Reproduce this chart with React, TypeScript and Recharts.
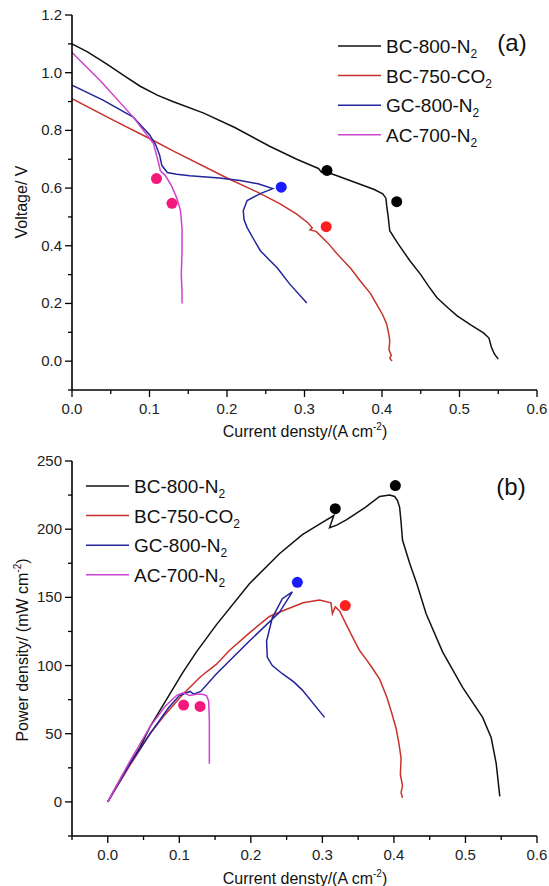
import React from "react";
import { ComposedChart, Line, Scatter, XAxis, YAxis } from "recharts";

// ---- (a) polarization curves: current density (A cm-2) vs voltage (V) ----
const bc800A_I = [0, 0.02, 0.045, 0.07, 0.088, 0.11, 0.13, 0.17, 0.21, 0.255, 0.29, 0.312, 0.318, 0.322, 0.326, 0.332, 0.342, 0.37, 0.39, 0.401, 0.405, 0.406, 0.408, 0.41, 0.42, 0.436, 0.45, 0.46, 0.471, 0.485, 0.497, 0.515, 0.531, 0.538, 0.541, 0.545, 0.55];
const bc800A_V = [1.1, 1.072, 1.03, 0.985, 0.953, 0.922, 0.9, 0.86, 0.81, 0.745, 0.7, 0.675, 0.668, 0.655, 0.662, 0.652, 0.643, 0.615, 0.595, 0.58, 0.565, 0.54, 0.5, 0.452, 0.41, 0.348, 0.3, 0.26, 0.22, 0.185, 0.157, 0.125, 0.098, 0.08, 0.05, 0.025, 0.007];

const bc750A_I = [0, 0.05, 0.105, 0.131, 0.2, 0.24, 0.268, 0.29, 0.305, 0.31, 0.307, 0.315, 0.33, 0.342, 0.36, 0.372, 0.385, 0.393, 0.401, 0.406, 0.409, 0.41, 0.409, 0.412, 0.41, 0.413];
const bc750A_V = [0.91, 0.84, 0.765, 0.728, 0.635, 0.585, 0.546, 0.51, 0.478, 0.462, 0.455, 0.45, 0.41, 0.372, 0.32, 0.278, 0.235, 0.198, 0.16, 0.129, 0.09, 0.07, 0.04, 0.02, 0.01, 0.0];

const gc800A_I = [0, 0.04, 0.079, 0.1, 0.108, 0.113, 0.116, 0.123, 0.135, 0.152, 0.19, 0.217, 0.24, 0.259, 0.243, 0.226, 0.221, 0.222, 0.226, 0.235, 0.243, 0.255, 0.265, 0.281, 0.303];
const gc800A_V = [0.957, 0.905, 0.846, 0.785, 0.75, 0.715, 0.678, 0.654, 0.648, 0.643, 0.635, 0.626, 0.615, 0.598, 0.581, 0.557, 0.522, 0.49, 0.463, 0.42, 0.383, 0.35, 0.323, 0.267, 0.202];

const ac700A_I = [0, 0.036, 0.079, 0.105, 0.111, 0.114, 0.12, 0.128, 0.135, 0.14, 0.142, 0.142, 0.141, 0.142, 0.142];
const ac700A_V = [1.07, 0.974, 0.846, 0.755, 0.695, 0.66, 0.645, 0.61, 0.567, 0.522, 0.46, 0.38, 0.3, 0.24, 0.2];

// marked points in (a)
const bc800MarkA_I = [0.329, 0.419];
const bc800MarkA_V = [0.661, 0.553];
const bc750MarkA_I = [0.328];
const bc750MarkA_V = [0.466];
const gc800MarkA_I = [0.27];
const gc800MarkA_V = [0.603];
const ac700MarkA_I = [0.109, 0.129];
const ac700MarkA_V = [0.633, 0.547];

// ---- (b) power density curves: current density vs power (mW cm-2) ----
const bc800B_I = [0, 0.02, 0.045, 0.059, 0.082, 0.105, 0.124, 0.152, 0.198, 0.24, 0.272, 0.3, 0.316, 0.31, 0.32, 0.334, 0.36, 0.38, 0.394, 0.401, 0.405, 0.408, 0.41, 0.412, 0.422, 0.432, 0.445, 0.468, 0.496, 0.524, 0.536, 0.543, 0.548];
const bc800B_P = [0, 19, 40, 55, 75, 95, 110, 130, 160, 182, 196, 205, 210, 201, 203, 207, 216, 224, 225, 224, 221, 216, 205, 192, 175, 160, 138, 110, 84, 62, 47, 28, 4];

const bc750B_I = [0, 0.03, 0.059, 0.08, 0.105, 0.13, 0.152, 0.17, 0.198, 0.226, 0.244, 0.273, 0.296, 0.312, 0.314, 0.318, 0.324, 0.342, 0.352, 0.362, 0.37, 0.38, 0.39, 0.397, 0.403, 0.407, 0.41, 0.409, 0.412, 0.41, 0.412];
const bc750B_P = [0, 26, 50, 64, 79, 92, 101, 111, 124, 136, 140, 146, 148, 146, 138, 143, 140, 121, 111, 104, 98, 90, 77, 65, 54, 43, 32, 20, 12, 7, 3];

const gc800B_I = [0, 0.03, 0.059, 0.085, 0.1, 0.11, 0.115, 0.12, 0.13, 0.152, 0.198, 0.24, 0.258, 0.244, 0.23, 0.222, 0.223, 0.23, 0.244, 0.26, 0.272, 0.303];
const gc800B_P = [0, 27, 50, 69, 78, 80, 81, 79, 81, 94, 118, 139, 154, 149, 135, 118, 106, 100, 94, 88, 82, 62];

const ac700B_I = [0, 0.03, 0.059, 0.08, 0.096, 0.105, 0.115, 0.124, 0.132, 0.138, 0.141, 0.142, 0.142, 0.142];
const ac700B_P = [0, 29, 55, 70, 78, 80, 78, 79, 79, 78, 74, 60, 45, 28];

// marked points in (b)
const bc800MarkB_I = [0.318, 0.402];
const bc800MarkB_P = [215, 232];
const bc750MarkB_I = [0.332];
const bc750MarkB_P = [144];
const gc800MarkB_I = [0.265];
const gc800MarkB_P = [161];
const ac700MarkB_I = [0.106, 0.129];
const ac700MarkB_P = [71, 70];

// ---- axes ----
const xTicksA = [0, 0.05, 0.1, 0.15, 0.2, 0.25, 0.3, 0.35, 0.4, 0.45, 0.5, 0.55, 0.6];
const xTicksB = [-0.05, 0, 0.05, 0.1, 0.15, 0.2, 0.25, 0.3, 0.35, 0.4, 0.45, 0.5, 0.55, 0.6];
const yTicksA = [-0.1, 0, 0.1, 0.2, 0.3, 0.4, 0.5, 0.6, 0.7, 0.8, 0.9, 1.0, 1.1, 1.2];
const yTicksB = [-25, 0, 25, 50, 75, 100, 125, 150, 175, 200, 225, 250];

const seriesNames = ["BC-800-N", "BC-750-CO", "GC-800-N", "AC-700-N"];
const seriesSub = ["2", "2", "2", "2"];
const lineColors = ["#111111", "#c8322c", "#24249c", "#cc44cc"];
const markColors = ["#000000", "#ff1f1f", "#1a1aff", "#f5187c"];

const FONT = "'Liberation Sans', Arial, sans-serif";

const zip = (xs: number[], ys: number[]) => xs.map((x, i) => ({ x, y: ys[i] }));

const near = (v: number, step: number) =>
  Math.abs(v / step - Math.round(v / step)) < 1e-6;

const makeTick =
  (side: "x" | "y", step: number, digits: number) =>
  (props: any) => {
    const { x, y, payload } = props;
    const v = payload.value as number;
    const major = near(v, step);
    const len = major ? 7 : 4;
    const label = digits > 0 ? v.toFixed(digits) : String(v);
    if (side === "x") {
      return (
        <g>
          <line x1={x} x2={x} y1={y} y2={y + len} stroke="#000" strokeWidth={1.3} />
          {major && (
            <text x={x} y={y + 24} textAnchor="middle" fontSize={15} fill="#222" fontFamily={FONT}>
              {label}
            </text>
          )}
        </g>
      );
    }
    return (
      <g>
        <line x1={x - len} x2={x} y1={y} y2={y} stroke="#000" strokeWidth={1.3} />
        {major && (
          <text x={x - 10} y={y + 5} textAnchor="end" fontSize={15} fill="#222" fontFamily={FONT}>
            {label}
          </text>
        )}
      </g>
    );
  };

const SeriesLegend = ({ x, y, gap }: { x: number; y: number; gap: number }) => (
  <g>
    {seriesNames.map((name, i) => (
      <g key={name}>
        <line x1={x} x2={x + 43} y1={y + i * gap} y2={y + i * gap} stroke={lineColors[i]} strokeWidth={1.5} />
        <text x={x + 48} y={y + i * gap + 7} fontSize={19} fill="#111" fontFamily={FONT}>
          {name}
          <tspan fontSize={12} dy={5}>
            {seriesSub[i]}
          </tspan>
        </text>
      </g>
    ))}
  </g>
);

const XTitle = ({ y }: { y: number }) => (
  <text x={305} y={y} textAnchor="middle" fontSize={16} fill="#111" fontFamily={FONT}>
    Current densty/(A cm
    <tspan fontSize={10} dy={-7}>-2</tspan>
    <tspan dy={7}>)</tspan>
  </text>
);

const dot = (color: string) => (p: any) =>
  <circle cx={p.cx} cy={p.cy} r={5.5} fill={color} />;

const frame = { stroke: "#666", strokeWidth: 1 };
const axis = { stroke: "#000", strokeWidth: 1.6 };

const seriesA = [
  zip(bc800A_I, bc800A_V),
  zip(bc750A_I, bc750A_V),
  zip(gc800A_I, gc800A_V),
  zip(ac700A_I, ac700A_V),
];
const marksA = [
  zip(bc800MarkA_I, bc800MarkA_V),
  zip(bc750MarkA_I, bc750MarkA_V),
  zip(gc800MarkA_I, gc800MarkA_V),
  zip(ac700MarkA_I, ac700MarkA_V),
];
const seriesB = [
  zip(bc800B_I, bc800B_P),
  zip(bc750B_I, bc750B_P),
  zip(gc800B_I, gc800B_P),
  zip(ac700B_I, ac700B_P),
];
const marksB = [
  zip(bc800MarkB_I, bc800MarkB_P),
  zip(bc750MarkB_I, bc750MarkB_P),
  zip(gc800MarkB_I, gc800MarkB_P),
  zip(ac700MarkB_I, ac700MarkB_P),
];

export default function App() {
  return (
    <div style={{ position: "absolute", left: 0, top: 0, width: 549, height: 886, background: "#fff" }}>
      {/* (a) voltage */}
      <ComposedChart width={549} height={440} margin={{ top: 15, right: 12, bottom: 0, left: 0 }}>
        <XAxis xAxisId="top" orientation="top" type="number" domain={[0, 0.6]} height={0} tick={false} tickLine={false} axisLine={frame} />
        <YAxis yAxisId="right" orientation="right" type="number" domain={[-0.1, 1.2]} width={0} tick={false} tickLine={false} axisLine={frame} />
        <XAxis
          dataKey="x"
          type="number"
          domain={[0, 0.6]}
          ticks={xTicksA}
          interval={0}
          allowDataOverflow
          height={50}
          tickSize={0}
          tickMargin={0}
          tickLine={false}
          axisLine={axis}
          tick={makeTick("x", 0.1, 1)}
        />
        <YAxis
          type="number"
          domain={[-0.1, 1.2]}
          ticks={yTicksA}
          interval={0}
          allowDataOverflow
          width={72}
          tickSize={0}
          tickMargin={0}
          tickLine={false}
          axisLine={axis}
          tick={makeTick("y", 0.2, 1)}
        />
        {seriesA.map((d, i) => (
          <Line key={`la${i}`} data={d} dataKey="y" type="linear" stroke={lineColors[i]} strokeWidth={1.5} dot={false} activeDot={false} isAnimationActive={false} />
        ))}
        {marksA.map((d, i) => (
          <Scatter key={`sa${i}`} data={d} dataKey="y" shape={dot(markColors[i])} isAnimationActive={false} />
        ))}
        <SeriesLegend x={338} y={46} gap={29.6} />
        <text x={512} y={51} textAnchor="middle" fontSize={24} fill="#111" fontFamily={FONT}>
          (a)
        </text>
        <text transform="translate(27,202) rotate(-90)" textAnchor="middle" fontSize={16} fill="#111" fontFamily={FONT}>
          Voltage/ V
        </text>
        <XTitle y={437} />
      </ComposedChart>

      {/* (b) power */}
      <ComposedChart width={549} height={446} margin={{ top: 21, right: 12, bottom: 0, left: 0 }}>
        <XAxis xAxisId="top" orientation="top" type="number" domain={[-0.05, 0.6]} height={0} tick={false} tickLine={false} axisLine={frame} />
        <YAxis yAxisId="right" orientation="right" type="number" domain={[-25, 250]} width={0} tick={false} tickLine={false} axisLine={frame} />
        <XAxis
          dataKey="x"
          type="number"
          domain={[-0.05, 0.6]}
          ticks={xTicksB}
          interval={0}
          allowDataOverflow
          height={50}
          tickSize={0}
          tickMargin={0}
          tickLine={false}
          axisLine={axis}
          tick={makeTick("x", 0.1, 1)}
        />
        <YAxis
          type="number"
          domain={[-25, 250]}
          ticks={yTicksB}
          interval={0}
          allowDataOverflow
          width={72}
          tickSize={0}
          tickMargin={0}
          tickLine={false}
          axisLine={axis}
          tick={makeTick("y", 50, 0)}
        />
        {seriesB.map((d, i) => (
          <Line key={`lb${i}`} data={d} dataKey="y" type="linear" stroke={lineColors[i]} strokeWidth={1.5} dot={false} activeDot={false} isAnimationActive={false} />
        ))}
        {marksB.map((d, i) => (
          <Scatter key={`sb${i}`} data={d} dataKey="y" shape={dot(markColors[i])} isAnimationActive={false} />
        ))}
        <SeriesLegend x={86} y={46} gap={29.6} />
        <text x={511} y={55} textAnchor="middle" fontSize={24} fill="#111" fontFamily={FONT}>
          (b)
        </text>
        <text transform="translate(28,210) rotate(-90)" textAnchor="middle" fontSize={16} fill="#111" fontFamily={FONT}>
          Power density/ (mW cm
          <tspan fontSize={10} dy={-7}>-2</tspan>
          <tspan dy={7}>)</tspan>
        </text>
        <XTitle y={444} />
      </ComposedChart>
    </div>
  );
}
